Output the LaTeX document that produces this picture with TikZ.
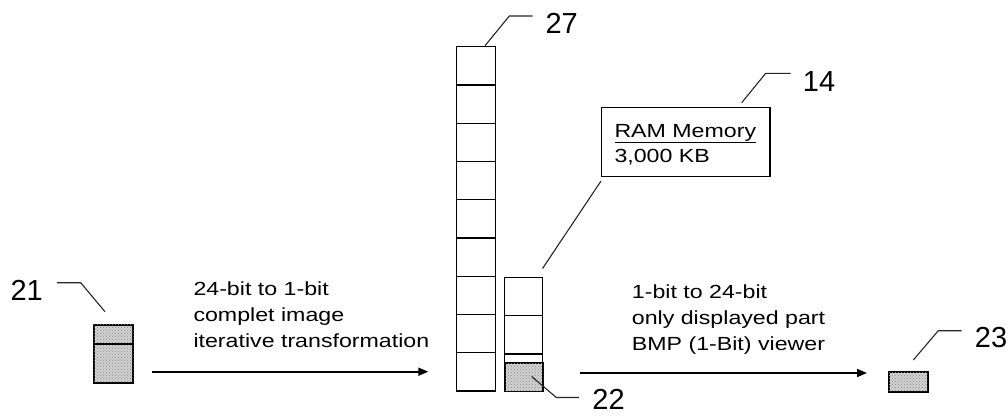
\documentclass[tikz,border=0pt]{standalone}
\usepackage{fontspec}
\setmainfont{Liberation Sans}
\newfontfamily\txtfont[FakeStretch=1.22]{Liberation Sans}
\usetikzlibrary{arrows.meta,patterns}
\begin{document}
\begin{tikzpicture}[x=1pt,y=-1pt,
  cell/.style={draw=black, line width=1.2pt},
  shaded/.style={draw=black, line width=1.8pt, fill=black!18,
    postaction={pattern=crosshatch dots, pattern color=black!45}},
  leader/.style={draw=black!85, line width=1.1pt},
  flow/.style={draw=black, line width=1.6pt, -{Triangle[length=10pt,width=8pt]}},
  body/.style={font=\txtfont\fontsize{19}{25.7}\selectfont, inner sep=0pt, align=left},
  num/.style={font=\fontsize{29}{29}\selectfont, inner sep=0pt}]
\useasboundingbox (0,0) rectangle (1008,416);

% box 21
\draw[shaded] (94.3,324.7) rectangle (133.3,382.7);
\draw[line width=1.6pt] (94.3,344) -- (133.3,344);
\coordinate (b21) at (105,311.7);

% column 27
\foreach \i in {0,...,8}{
  \draw[cell] (456.7,{46.7+38.26*\i}) rectangle (495.3,{46.7+38.26*(\i+1)});
}
\coordinate (b27) at (485,45.7);

% small column 22
\draw[cell] (504.7,277.3) rectangle (542.7,391);
\draw[cell] (504.7,315.7) -- (542.7,315.7);
\draw[cell] (504.7,354) -- (542.7,354);
\draw[shaded] (505.5,363.3) rectangle (543.3,391.5);
\coordinate (b22) at (531.7,376.5);
\coordinate (colTop) at (542.5,268.5);

% box 23
\draw[shaded] (889,372.3) rectangle (927.7,391.7);
\coordinate (b23) at (913.3,360);

% RAM box
\node[draw=black, line width=1.2pt, minimum width=168.6pt, minimum height=69.3pt, inner sep=0pt, anchor=north west] (ram) at (600.7,106.7) {};
\node[body, anchor=base west] (ramtxt) at (614.3,162.7) {\underline{RAM Memory}\\3,000 KB};
\coordinate (ramLow) at (601,181);
\coordinate (b14) at (741.7,102.7);

% texts
\node[body, anchor=base west] (t1) at (193.3,347) {24-bit to 1-bit\\complet image\\iterative transformation};
\node[body, anchor=base west] (t2) at (631.7,350) {1-bit to 24-bit\\only displayed part\\BMP (1-Bit) viewer};

% arrows
\coordinate (a1s) at (151.7,371.7);
\coordinate (a1e) at (428.3,371.7);
\coordinate (a2s) at (580,373);
\coordinate (a2e) at (867,373);
\draw[flow] (a1s) -- (a1e);
\draw[flow] (a2s) -- (a2e);

% leader RAM to column
\draw[leader] (colTop) -- (ramLow);

% labels
\node[num, anchor=base] (l21) at (26.7,300.7) {21};
\node[num, anchor=base] (l27) at (561.7,33.3) {27};
\node[num, anchor=base] (l14) at (819,91.7) {14};
\node[num, anchor=base] (l23) at (991,347) {23};
\node[num, anchor=base] (l22) at (608.5,409.5) {22};

\draw[leader] (l21.east |- 0,282.7) ++(14,0) -- (80.7,282.7) -- (b21);
\draw[leader] (b27) -- (509.3,16) -- (532.7,16);
\draw[leader] (b14) -- (765.7,73.3) -- (790.7,73.3);
\draw[leader] (b23) -- (938.3,330.7) -- (961.7,330.7);
\draw[leader] (b22) -- (556.3,397.5) -- (579,397.5);
\end{tikzpicture}
\end{document}
